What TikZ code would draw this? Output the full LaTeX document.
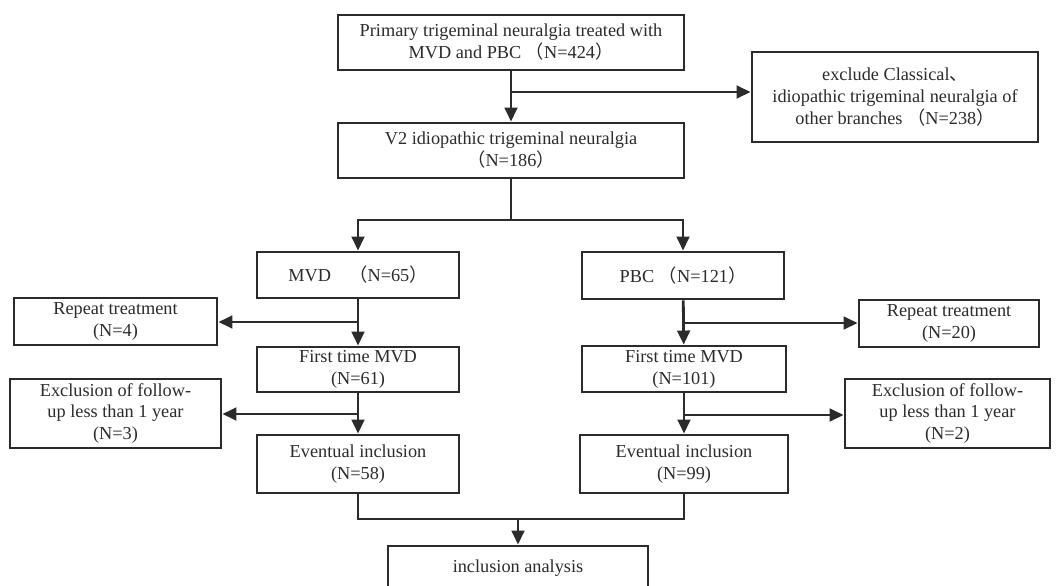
\documentclass[tikz,border=0pt]{standalone}
\usepackage{fontspec}
\setmainfont{Liberation Serif}
\newfontfamily\cjk{Noto Sans CJK SC}
\usepackage{xcolor}
\usepackage{tikz}
\usetikzlibrary{arrows.meta,positioning}
\definecolor{ink}{HTML}{2B2B2B}
\newcommand{\lpar}{{\cjk （}}
\newcommand{\rpar}{{\cjk ）}}

\begin{document}
\begin{tikzpicture}[
    x=0.025cm, y=-0.025cm,
    box/.style={draw=ink, line width=2pt, fill=white, align=center, inner sep=2pt,
                text=ink, font=\fontsize{13}{15.6}\selectfont},
    sz/.style 2 args={minimum width=#1*0.025cm, minimum height=#2*0.025cm},
    line/.style={-{Triangle[length=10pt,width=9pt]}, line width=2pt, draw=ink},
    plain/.style={line width=2pt, draw=ink}
  ]
  \clip (0,0) rectangle (1056,585);
  \useasboundingbox (0,0) rectangle (1056,585);

  %%%%%%%%%%%%% Top: screening %%%%%%%%%%%%%
  \node[box, sz={346}{55}] (prim) at (511,42.5) {Primary trigeminal neuralgia treated with\\MVD and PBC \lpar N=424\rpar};
  \node[box, sz={286}{90}] (excl) at (895,97) {exclude Classical{\cjk 、}\\idiopathic trigeminal neuralgia of\\other branches \lpar N=238\rpar};
  \node[box, sz={346}{55}] (vtwo) at (511,150.5) {V2 idiopathic trigeminal neuralgia\\\lpar N=186\rpar};

  %%%%%%%%%%%%% Middle: MVD / PBC arms %%%%%%%%%%%%%
  \node[box, sz={202}{46}] (mvd) at (358,275) {MVD\quad\lpar N=65\rpar};
  \node[box, sz={202}{47}] (pbc) at (683,275.5) {PBC \lpar N=121\rpar};
  \node[box, sz={203}{47}] (repl) at (115.5,321.5) {Repeat treatment\\(N=4)};
  \node[box, sz={180}{47}] (repr) at (949,323.5) {Repeat treatment\\(N=20)};
  \node[box, sz={202}{45}] (firstl) at (358,369.5) {First time MVD\\(N=61)};
  \node[box, sz={204}{46}] (firstr) at (684,369) {First time MVD\\(N=101)};
  \node[box, sz={211}{69}] (exfl) at (115.5,413.5) {Exclusion of follow-\\up less than 1 year\\(N=3)};
  \node[box, sz={205}{69}] (exfr) at (947.5,413.5) {Exclusion of follow-\\up less than 1 year\\(N=2)};

  %%%%%%%%%%%%% Bottom: inclusion %%%%%%%%%%%%%
  \node[box, sz={202}{58}] (evl) at (358,464) {Eventual inclusion\\(N=58)};
  \node[box, sz={208}{58}] (evr) at (684,464) {Eventual inclusion\\(N=99)};
  \node[box, sz={260}{44}] (incl) at (518,568) {inclusion analysis};

  %%%%%%%%%%%%% Connections %%%%%%%%%%%%%
  \coordinate (bx) at (511,92);
  \coordinate (split) at (511,220);
  \coordinate (brl) at (358,322);
  \coordinate (brr) at (683,323);
  \coordinate (bfl) at (358,414);
  \coordinate (bfr) at (684,415);
  \coordinate (merge) at (518,519);

  \draw[line] (prim) -- (vtwo);
  \draw[line] (bx) -- (bx -| excl.west);
  \draw[plain] (vtwo.south) -- (split);
  \draw[line] (split) -| (mvd.north);
  \draw[line] (split) -| (pbc.north);

  \draw[line] (mvd) -- (firstl);
  \draw[line] (brl) -- (brl -| repl.east);
  \draw[line] (pbc) -- (firstr);
  \draw[line] (brr) -- (brr -| repr.west);

  \draw[line] (firstl) -- (evl);
  \draw[line] (bfl) -- (bfl -| exfl.east);
  \draw[line] (firstr) -- (evr);
  \draw[line] (bfr) -- (bfr -| exfr.west);

  \draw[plain] (evl.south) |- (merge) -| (evr.south);
  \draw[line] (merge) -- (incl.north);

\end{tikzpicture}
\end{document}
